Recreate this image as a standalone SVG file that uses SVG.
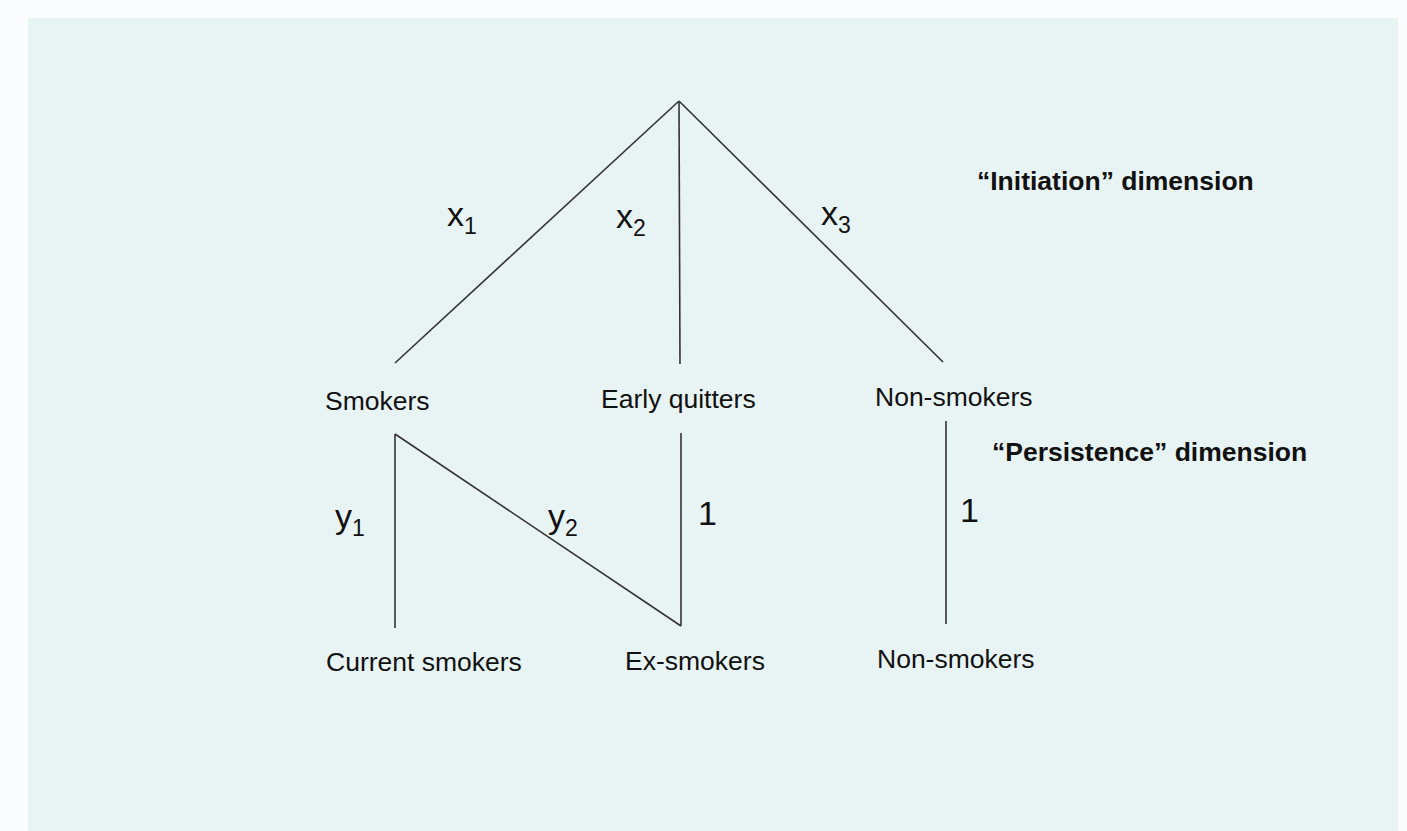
<svg xmlns="http://www.w3.org/2000/svg" width="1407" height="831" viewBox="0 0 1407 831">
<style>
.lbl{font-family:"Liberation Sans",Arial,sans-serif;font-size:26.5px;fill:#111}
.dim{font-family:"Liberation Sans",Arial,sans-serif;font-size:26.5px;font-weight:bold;fill:#111}
.var{font-family:"Liberation Sans",Arial,sans-serif;font-size:34px;fill:#111}
.sub{font-size:23px}
.edge{stroke:#333;stroke-width:1.6;fill:none}
</style>
<rect x="0" y="0" width="1407" height="831" fill="#fbfcfd"/>
<rect x="28" y="18" width="1370" height="813" fill="#e8f3f3"/>
<g id="connectors">
<line class="edge" x1="679" y1="101" x2="395" y2="363"/>
<line class="edge" x1="679" y1="101" x2="680" y2="364"/>
<line class="edge" x1="679" y1="101" x2="943" y2="362"/>
<line class="edge" x1="395" y1="434" x2="395" y2="628"/>
<line class="edge" x1="395" y1="434" x2="681" y2="626"/>
<line class="edge" x1="681" y1="433" x2="681" y2="626"/>
<line class="edge" x1="946" y1="421" x2="946" y2="624"/>
</g>
<g id="edge-labels">
<text class="var" x="447" y="226">x<tspan class="sub" dy="8">1</tspan></text>
<text class="var" x="616" y="228">x<tspan class="sub" dy="8">2</tspan></text>
<text class="var" x="821" y="225">x<tspan class="sub" dy="8">3</tspan></text>
<text class="var" x="335" y="528">y<tspan class="sub" dy="8">1</tspan></text>
<text class="var" x="548" y="528">y<tspan class="sub" dy="8">2</tspan></text>
<text class="var" x="698" y="525">1</text>
<text class="var" x="960" y="522">1</text>
</g>
<g id="node-smokers"><text class="lbl" x="325" y="410">Smokers</text></g>
<g id="node-early-quitters"><text class="lbl" x="601" y="408">Early quitters</text></g>
<g id="node-non-smokers-1"><text class="lbl" x="875" y="406">Non-smokers</text></g>
<g id="node-current-smokers"><text class="lbl" x="326" y="671">Current smokers</text></g>
<g id="node-ex-smokers"><text class="lbl" x="625" y="670">Ex-smokers</text></g>
<g id="node-non-smokers-2"><text class="lbl" x="877" y="668">Non-smokers</text></g>
<g id="dimension-labels">
<text class="dim" x="977" y="190">“Initiation” dimension</text>
<text class="dim" x="992" y="461">“Persistence” dimension</text>
</g>
</svg>
